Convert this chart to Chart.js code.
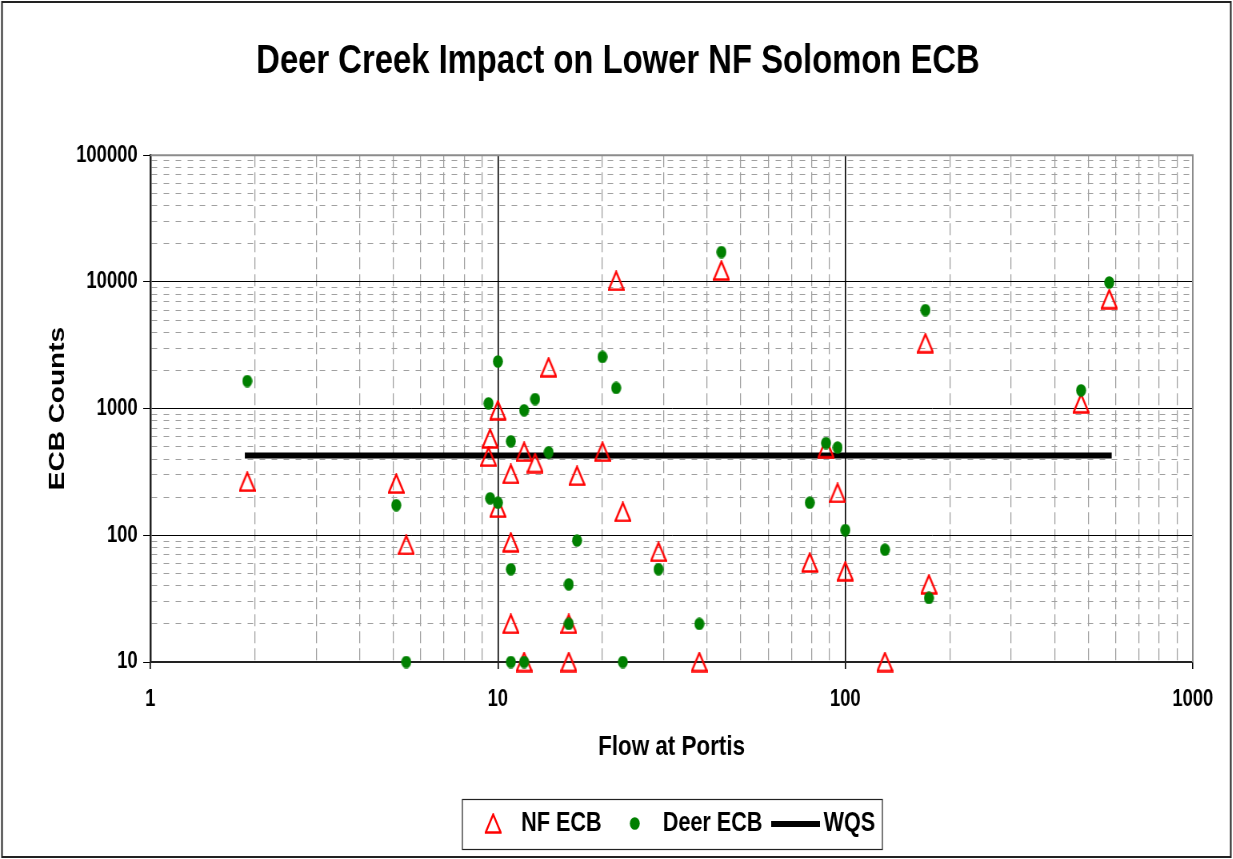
<!DOCTYPE html>
<html>
<head>
<meta charset="utf-8">
<script src="https://cdn.jsdelivr.net/npm/chart.js@4.4.0/dist/chart.umd.min.js"></script>
<style>
  html, body { margin: 0; padding: 0; background: #fff; overflow: hidden; }
  /* the source chart is an Excel image squeezed sideways: draw wide, then squeeze */
  #wrap { width: 1541px; height: 859px; transform: scaleX(0.8); transform-origin: 0 0; }
</style>
</head>
<body>
<div id="wrap"><canvas id="ecbChart" width="1541" height="859"></canvas></div>
<script>
// flow at Portis for each sample, with the two ECB counts taken that day
const flow    = [1.9, 5.1, 5.45, 9.4, 9.5, 10, 10, 10.9, 10.9, 10.9, 11.9, 11.9, 12.8, 14, 16, 16,
                 16.9, 20, 21.9, 22.9, 29, 38, 44, 79, 88, 95, 100, 130, 170, 174, 477, 575];
const nfEcb   = [265, 256, 84, 417, 581, 970, 165, 305, 88, 20, 457, 10, 372, 2120, 20, 10,
                 295, 457, 10200, 153, 74, 10, 12300, 61, 487, 216, 52, 10, 3280, 41, 1100, 7310];
const deerEcb = [1650, 173, 10, 1100, 196, 2355, 181, 552, 54, 10, 970, 10, 1190, 452, 41, 20,
                 91, 2560, 1456, 10, 54, 20, 17200, 181, 535, 493, 110, 77, 5990, 32, 1393, 9900];

// water quality standard line
const wqsFlow  = [1.9, 575];
const wqsValue = [427, 427];

// axis ticks
const xMajor = [1, 10, 100, 1000];
const yMajor = [10, 100, 1000, 10000, 100000];
const minorSteps = [2, 3, 4, 5, 6, 7, 8, 9];

const SANS = '"Liberation Sans", Arial, sans-serif';

function isPow10(v) {
  const l = Math.log10(v);
  return Math.abs(l - Math.round(l)) < 1e-9;
}
function majorCtx(c) {
  return !c.tick || isPow10(c.tick.value);
}
function buildLogTicks(majors) {
  const out = [];
  majors.forEach((m, i) => {
    out.push(m);
    if (i < majors.length - 1) minorSteps.forEach(k => out.push(m * k));
  });
  return out.map(v => ({ value: v, major: isPow10(v) }));
}

// marker images, drawn in the wide (unsqueezed) space
function makeTriangle() {
  const c = document.createElement('canvas');
  c.width = 21; c.height = 21;
  const g = c.getContext('2d');
  g.strokeStyle = '#ff0000';
  g.lineWidth = 2.4;
  g.beginPath();
  g.moveTo(10.5, 1.5);
  g.lineTo(19.9, 19.5);
  g.lineTo(1.1, 19.5);
  g.closePath();
  g.stroke();
  return c;
}
function makeDot() {
  const c = document.createElement('canvas');
  c.width = 13; c.height = 13;
  const g = c.getContext('2d');
  g.fillStyle = '#008000';
  g.beginPath();
  g.ellipse(6.5, 6.5, 6.2, 6.3, 0, 0, Math.PI * 2);
  g.fill();
  return c;
}
function makeLine() {
  const c = document.createElement('canvas');
  c.width = 61; c.height = 6;
  const g = c.getContext('2d');
  g.fillStyle = '#000';
  g.fillRect(0, 0, 61, 6);
  return c;
}

const framePlugin = {
  id: 'frame',
  afterLayout(chart) {
    // title and legend sit a little right of centre in the source
    chart.titleBlock.left += 21;
    chart.titleBlock.right += 21;
    chart.legend.left += 93;
    chart.legend.right += 93;
  },
  beforeDraw(chart) {
    const c = chart.ctx;
    c.save();
    c.fillStyle = '#fff';
    c.fillRect(0, 0, chart.width, chart.height);
    c.strokeStyle = '#222';
    c.lineWidth = 2;
    c.strokeRect(2.5, 2, chart.width - 5, chart.height - 4);
    c.restore();
  },
  beforeDatasetsDraw(chart) {
    const a = chart.chartArea, c = chart.ctx;
    c.save();
    c.strokeStyle = '#8c8c8c';
    c.lineWidth = 2;
    c.beginPath();
    c.moveTo(a.left, a.top);
    c.lineTo(a.right, a.top);
    c.lineTo(a.right, a.bottom);
    c.stroke();
    c.restore();
  },
  afterDraw(chart) {
    const lg = chart.legend, c = chart.ctx;
    const p = lg.options.labels.padding;
    const fs = lg.options.labels.font.size;
    const lw = lg.lineWidths[0];
    const start = (lg.left + p + lg.right - lw) / 2;
    const end = start + lw - p;
    const mid = lg.top + p + fs / 2;
    c.save();
    c.strokeStyle = '#222';
    c.lineWidth = 1.2;
    c.strokeRect(Math.round(start - 17), Math.round(mid - 25) + 0.5, Math.round(end - start + 26), 50);
    c.restore();
  }
};

const ctx = document.getElementById('ecbChart').getContext('2d');

new Chart(ctx, {
  type: 'scatter',
  data: {
    datasets: [{
      label: 'NF ECB',
      data: flow.map((x, i) => ({ x, y: nfEcb[i] })),
      pointStyle: makeTriangle(),
      pointRadius: 9,
      order: 1,
      clip: false
    }, {
      label: 'Deer ECB',
      data: flow.map((x, i) => ({ x, y: deerEcb[i] })),
      pointStyle: makeDot(),
      pointRadius: 6,
      order: 0,
      clip: false
    }, {
      label: 'WQS',
      type: 'line',
      data: wqsFlow.map((x, i) => ({ x, y: wqsValue[i] })),
      borderColor: '#000',
      borderWidth: 6,
      borderCapStyle: 'square',
      pointRadius: 0,
      pointStyle: makeLine(),
      order: 2,
      clip: false
    }]
  },
  options: {
    responsive: false,
    animation: false,
    events: [],
    layout: { padding: { left: 12, right: 50, top: 0, bottom: 12 } },
    plugins: {
      title: {
        display: true,
        text: 'Deer Creek Impact on Lower NF Solomon ECB',
        color: '#000',
        font: { family: SANS, size: 41, weight: 'bold' },
        padding: { top: 37, bottom: 69 }
      },
      legend: {
        position: 'bottom',
        labels: {
          usePointStyle: true,
          pointStyleWidth: 43,
          padding: 20,
          color: '#000',
          font: { family: SANS, size: 27, weight: 'bold' },
          sort: (a, b) => a.datasetIndex - b.datasetIndex
        }
      },
      tooltip: { enabled: false }
    },
    scales: {
      x: {
        type: 'logarithmic',
        position: 'bottom',
        min: 1,
        max: 1000,
        afterBuildTicks: s => { s.ticks = buildLogTicks(xMajor); },
        afterFit: s => { s.height = 128; },
        ticks: {
          autoSkip: false,
          maxRotation: 0,
          padding: 17,
          color: '#000',
          font: { family: SANS, size: 23, weight: 'bold' },
          callback: v => xMajor.includes(v) ? String(v) : ''
        },
        grid: {
          color: c => majorCtx(c) ? '#000' : '#a0a0a0',
          lineWidth: c => majorCtx(c) ? 1.6 : 1.25,
          tickLength: 7,
          tickColor: c => majorCtx(c) ? '#000' : 'rgba(0,0,0,0)'
        },
        border: { color: '#222', width: 2, dash: c => majorCtx(c) ? [] : [12, 5] },
        title: {
          display: true,
          text: 'Flow at Portis',
          color: '#000',
          font: { family: SANS, size: 28, weight: 'bold' },
          padding: { top: 0, bottom: 26 }
        }
      },
      y: {
        type: 'logarithmic',
        min: 10,
        max: 100000,
        afterBuildTicks: s => { s.ticks = buildLogTicks(yMajor); },
        afterFit: s => { s.width = 176; },
        ticks: {
          autoSkip: false,
          padding: 7,
          color: '#000',
          font: { family: SANS, size: 23, weight: 'bold' },
          callback: v => yMajor.includes(v) ? String(v) : ''
        },
        grid: {
          color: c => majorCtx(c) ? '#000' : '#a0a0a0',
          lineWidth: 1,
          tickLength: 9,
          tickColor: c => majorCtx(c) ? '#000' : 'rgba(0,0,0,0)'
        },
        border: { color: '#222', width: 2.5, dash: c => majorCtx(c) ? [] : [7, 8] },
        title: {
          display: true,
          text: 'ECB Counts',
          color: '#000',
          font: { family: SANS, size: 28, weight: 'bold' },
          padding: { top: 43, bottom: 0 }
        }
      }
    }
  },
  plugins: [framePlugin]
});
</script>
</body>
</html>
